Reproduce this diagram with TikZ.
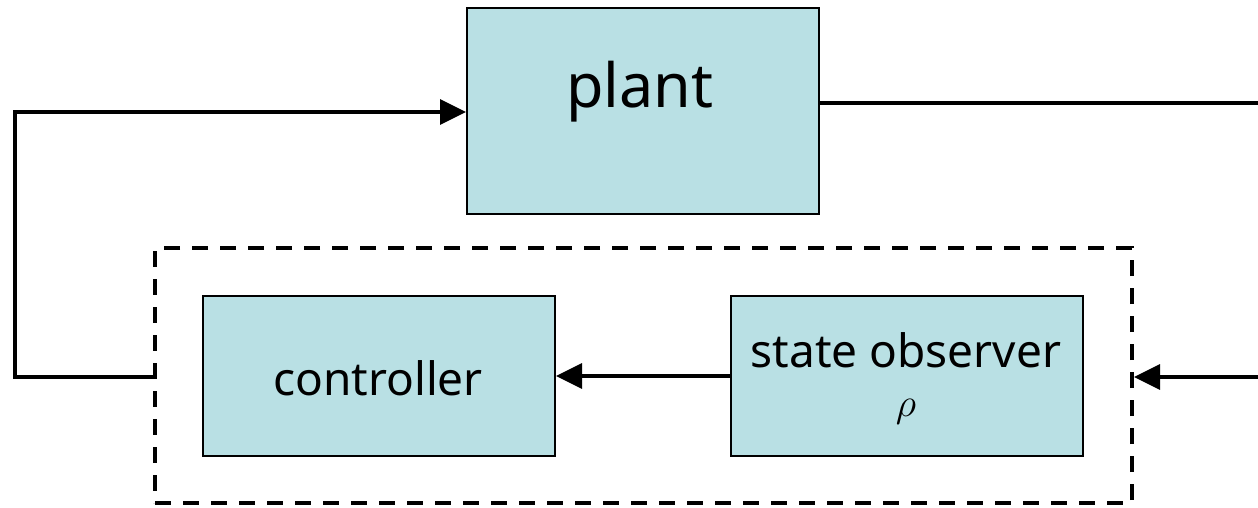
\documentclass[tikz,border=0pt]{standalone}
\usepackage{fix-cm}
\usepackage{fontspec}
\setmainfont{Noto Sans}
\usetikzlibrary{arrows.meta}
\definecolor{boxfill}{RGB}{185,224,228}
\begin{document}
\begin{tikzpicture}[x=1pt,y=-1pt,
  block/.style={draw=black,line width=2pt,fill=boxfill,inner sep=0pt},
  label/.style={font=\fontsize{46}{50}\selectfont},
  wire/.style={line width=3.3pt},
  arr/.style={wire,-{Triangle[length=26pt,width=25pt]}},
  group/.style={draw=black,line width=4pt,dash pattern=on 16pt off 12pt}]
\useasboundingbox (0,0) rectangle (1258,507);
\node[block,minimum width=352pt,minimum height=206pt] (plant) at (643,111) {};
\node[font=\fontsize{61}{66}\selectfont] at (640,92) {plant};
\node[block,minimum width=352pt,minimum height=160pt] (ctrl) at (379,376) {};
\node[label] at (378,378) {controller};
\node[block,minimum width=352pt,minimum height=160pt] (obs) at (907,376) {};
\node[label] at (906,350) {state observer};
\node[font=\fontsize{40}{44}\selectfont] at (906,412) {$\rho$};
\node[group,minimum width=977pt,minimum height=255pt,inner sep=0pt] (grp) at (643.5,375.5) {};
\coordinate (outR) at (1258,103);
\coordinate (inR) at (1258,377);
\coordinate (cornB) at (15,377);
\coordinate (cornT) at (15,112);
\draw[wire] (plant.east |- outR) -- (outR);
\draw[arr] (inR) -- (grp.east |- inR);
\draw[arr] (obs.west) -- (ctrl.east);
\draw[arr] (grp.west |- cornB) -- (cornB) -- (cornT) -- (plant.west |- cornT);
\end{tikzpicture}
\end{document}
